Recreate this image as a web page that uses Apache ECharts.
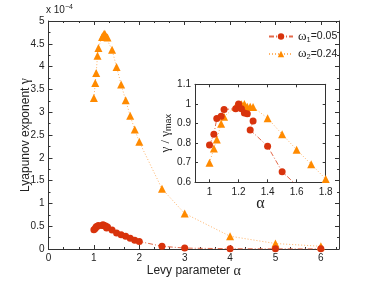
<!DOCTYPE html>
<html><head><meta charset="utf-8">
<script src="https://cdn.jsdelivr.net/npm/echarts@6/dist/echarts.min.js"></script>
<style>html,body{margin:0;padding:0;background:#fff}#c{width:374px;height:281px}</style>
</head><body><div id="c"></div>
<script>
// Main panel: Lyapunov exponent (units of 1e-4) vs Levy parameter alpha
var redAlpha = [1.0,1.03,1.05,1.08,1.1,1.18,1.2,1.22,1.24,1.26,1.3,1.28,1.4,1.5,1.6,1.7,1.8,1.9,2.0,2.5,3,4,5,6];
var redGamma = [0.42,0.45,0.49,0.50,0.515,0.517,0.53,0.517,0.505,0.503,0.484,0.46,0.415,0.35,0.31,0.28,0.235,0.19,0.165,0.06,0.02,0.006,0.004,0.003];
var orgAlpha = [1.0,1.03,1.05,1.08,1.1,1.18,1.2,1.22,1.24,1.26,1.28,1.3,1.4,1.5,1.6,1.7,1.8,1.9,2.0,2.5,3,4,5,6];
var orgGamma = [3.31,3.64,3.86,4.24,4.41,4.65,4.67,4.71,4.72,4.65,4.65,4.64,4.37,3.99,3.61,3.26,2.92,2.62,2.35,1.32,0.78,0.28,0.12,0.06];
// Inset: gamma / gamma_max
var redInsetAlpha = [1.0,1.03,1.05,1.08,1.1,1.18,1.2,1.22,1.24,1.26,1.3,1.28,1.4,1.5,1.6];
var redInsetNorm  = [0.79,0.845,0.925,0.937,0.972,0.975,1.0,0.975,0.953,0.95,0.913,0.867,0.784,0.654,0.585];
var orgInsetAlpha = [1.0,1.03,1.05,1.08,1.1,1.18,1.2,1.22,1.24,1.26,1.28,1.3,1.4,1.5,1.6,1.7,1.8];
var orgInsetNorm  = [0.70,0.773,0.819,0.899,0.935,0.986,0.99,0.998,1.0,0.985,0.986,0.984,0.927,0.845,0.766,0.692,0.617];
var mainXTicks = [0,1,2,3,4,5,6];
var insetXTicks = [1,1.2,1.4,1.6,1.8];

function zip(a,b){return a.map(function(v,i){return [v,b[i]];});}
var RED='#d8330c', REDL='#e3694a', ORG='#ff8a00', ORGL='#ffb469';
var AX='#333', TXT='#222';
function frameAxis(o){
  var base = {
    nameMoveOverlap:false,
    axisLine:{show:true,onZero:false,lineStyle:{color:AX,width:1}},
    axisTick:{show:true,inside:true,length:4,lineStyle:{color:AX}},
    minorTick:{show:false},
    splitLine:{show:false},
    axisLabel:{show:false,color:TXT,fontFamily:'Liberation Sans',fontSize:10}
  };
  for (var k in o){ if (typeof o[k]==='object' && base[k] && !Array.isArray(o[k])) { base[k]=Object.assign({},base[k],o[k]); } else base[k]=o[k]; }
  return base;
}
var chart = echarts.init(document.getElementById('c'), null, {renderer:'canvas'});
var option = {
  animation:false,
  backgroundColor:'#fff',
  grid:[
    {left:48.5, right:35, top:21, bottom:32, show:false, containLabel:false, outerBoundsMode:'none'},
    {left:195, top:84.3, width:130.7, height:98, show:true, backgroundColor:'#fff', borderWidth:0, containLabel:false, outerBoundsMode:'none'}
  ],
  xAxis:[
    frameAxis({gridIndex:0,type:'value',min:0,max:6.4,interval:1,position:'bottom',
      minorTick:{show:true,splitNumber:3,length:2,lineStyle:{color:AX}},
      axisLabel:{show:true,customValues:mainXTicks,margin:4},
      axisTick:{customValues:mainXTicks},
      name:'Levy parameter {g|α}',nameLocation:'middle',nameGap:15,
      nameTextStyle:{color:TXT,fontFamily:'Liberation Sans',fontSize:12,rich:{g:{fontFamily:'Liberation Serif',fontSize:14,color:TXT}}}}),
    frameAxis({gridIndex:0,type:'value',min:0,max:6.4,interval:1,position:'top',
      axisTick:{customValues:mainXTicks},
      minorTick:{show:true,splitNumber:3,length:2,lineStyle:{color:AX}}}),
    frameAxis({gridIndex:1,type:'value',min:0.9,max:1.8,position:'bottom',
      axisLabel:{show:true,customValues:insetXTicks,margin:5},
      axisTick:{customValues:insetXTicks,length:3},
      name:'{g|α}',nameLocation:'middle',nameGap:13,
      nameTextStyle:{rich:{g:{fontFamily:'Liberation Serif',fontSize:16,color:TXT}}}}),
    frameAxis({gridIndex:1,type:'value',min:0.9,max:1.8,position:'top',
      axisTick:{customValues:insetXTicks,length:3}})
  ],
  yAxis:[
    frameAxis({gridIndex:0,type:'value',min:0,max:5,interval:0.5,position:'left',
      minorTick:{show:true,splitNumber:2,length:2,lineStyle:{color:AX}},
      axisLabel:{show:true,margin:4},
      name:'Lyapunov exponent {g|γ}',nameLocation:'middle',nameGap:16,
      nameTextStyle:{color:TXT,fontFamily:'Liberation Sans',fontSize:12,rich:{g:{fontFamily:'Liberation Serif',fontSize:14,color:TXT}}}}),
    frameAxis({gridIndex:0,type:'value',min:0,max:5,interval:0.5,position:'right',
      minorTick:{show:true,splitNumber:2,length:2,lineStyle:{color:AX}}}),
    frameAxis({gridIndex:1,type:'value',min:0.6,max:1.1,interval:0.1,position:'left',
      axisTick:{length:3},
      axisLabel:{show:true,margin:4},
      name:'{g|γ / γ}{s|max}',nameLocation:'middle',nameGap:22,
      nameTextStyle:{rich:{g:{fontFamily:'Liberation Serif',fontSize:13,color:TXT},s:{fontFamily:'Liberation Sans',fontSize:9,color:TXT,padding:[6,0,0,0]}}}}),
    frameAxis({gridIndex:1,type:'value',min:0.6,max:1.1,interval:0.1,position:'right',
      axisTick:{length:3}})
  ],
  legend:{
    data:['w1','w2'],
    orient:'vertical', left:263, top:25, itemGap:4,
    itemWidth:24, itemHeight:8,
    formatter:function(n){return n==='w1'?'{g|ω}{s|1}{t|=0.05}':'{g|ω}{s|2}{t|=0.24}';},
    textStyle:{color:TXT,fontFamily:'Liberation Sans',fontSize:10.5,
      rich:{g:{fontFamily:'Liberation Serif',fontSize:13,color:TXT},
            s:{fontFamily:'Liberation Sans',fontSize:7.5,color:TXT,padding:[6,0,0,0]},
            t:{fontFamily:'Liberation Sans',fontSize:10.5,color:TXT}}}
  },
  graphic:[{type:'text',left:46,top:4,style:{
    text:'x 10{s|−4}',fill:TXT,font:'10px "Liberation Sans"',
    rich:{s:{fontSize:7,fontFamily:'Liberation Sans',fill:TXT,padding:[0,0,6,0]}}}}],
  series:[
    {name:'w2',type:'line',xAxisIndex:0,yAxisIndex:0,data:zip(orgAlpha,orgGamma),
     symbol:'triangle',symbolSize:8,itemStyle:{color:ORG},
     lineStyle:{color:ORGL,width:1,type:[1,2]},z:2},
    {name:'w1',type:'line',xAxisIndex:0,yAxisIndex:0,data:zip(redAlpha,redGamma),
     symbol:'circle',symbolSize:7,itemStyle:{color:RED},
     lineStyle:{color:REDL,width:1,type:[5,2,1,2]},z:3},
    {name:'w2',type:'line',xAxisIndex:2,yAxisIndex:2,data:zip(orgInsetAlpha,orgInsetNorm),
     symbol:'triangle',symbolSize:8,itemStyle:{color:ORG},clip:true,
     lineStyle:{color:ORGL,width:1,type:[1,2]},z:4},
    {name:'w1',type:'line',xAxisIndex:2,yAxisIndex:2,data:zip(redInsetAlpha,redInsetNorm),
     symbol:'circle',symbolSize:7,itemStyle:{color:RED},clip:true,
     lineStyle:{color:REDL,width:1,type:[5,2,1,2]},z:5}
  ]
};
chart.setOption(option);
</script></body></html>
